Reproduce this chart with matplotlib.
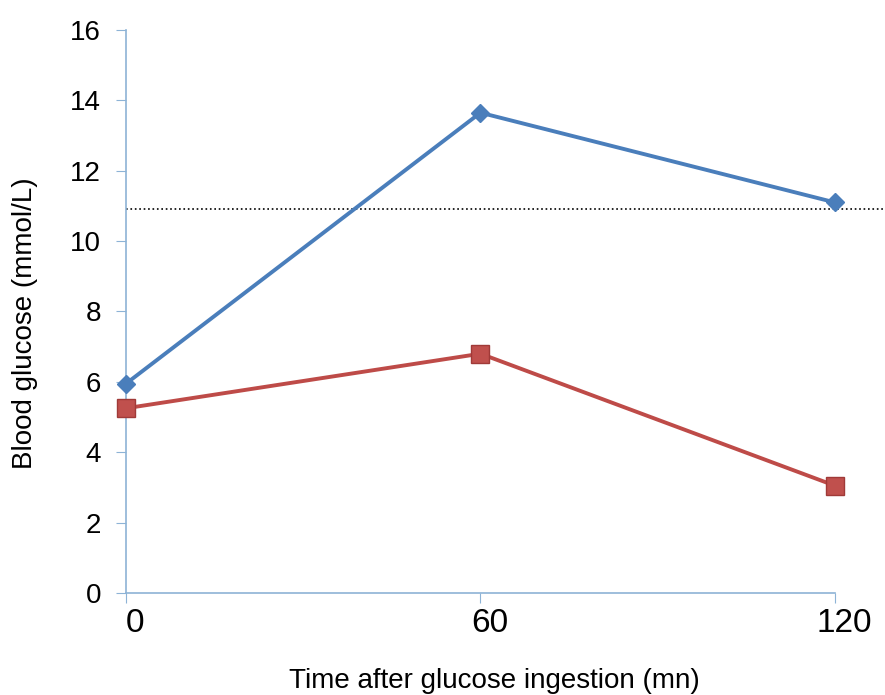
import matplotlib.pyplot as plt
import matplotlib.transforms as mtransforms

# data
time_mn = [0, 60, 120]
group_a = [5.95, 13.65, 11.1]   # blue diamonds
group_b = [5.25, 6.8, 3.05]     # red squares
threshold = 10.9
y_ticks = [0, 2, 4, 6, 8, 10, 12, 14, 16]

plt.rcParams['font.family'] = ['Liberation Sans', 'DejaVu Sans']

fig = plt.figure(figsize=(8.85, 6.95), dpi=100)
ax = fig.add_axes([0.1424, 0.1468, 0.801, 0.81])

ax.plot(time_mn, group_a, color='#4A7EBB', lw=2.8, marker='D', ms=9,
        mfc='#4A7EBB', mec='#4A7EBB', clip_on=False, zorder=3)
ax.plot(time_mn, group_b, color='#BE4B48', lw=2.8, marker='s', ms=13,
        mfc='#C0504D', mec='#A03A38', clip_on=False, zorder=3)
ax.plot([0, 128.6], [threshold, threshold], color='black', ls=':', lw=1.2,
        clip_on=False)

ax.set_xlim(0, 120)
ax.set_ylim(0, 16)
ax.set_xticks(time_mn)
ax.set_yticks(y_ticks)
ax.tick_params(axis='x', labelsize=24, colors='#8DB3D6', labelcolor='black',
               direction='out', length=7, pad=4)
ax.tick_params(axis='y', labelsize=20, colors='#8DB3D6', labelcolor='black',
               direction='out', length=7, pad=11)

# the x labels sit a little right of their ticks in the original
shift = mtransforms.ScaledTranslation(9 / 100, 0, fig.dpi_scale_trans)
for lbl in ax.get_xticklabels():
    lbl.set_transform(lbl.get_transform() + shift)

for side in ['top', 'right']:
    ax.spines[side].set_visible(False)
for side in ['left', 'bottom']:
    ax.spines[side].set_color('#8DB3D6')
    ax.spines[side].set_linewidth(1.2)

ax.set_xlabel('Time after glucose ingestion (mn)', fontsize=20)
ax.xaxis.set_label_coords(0.519, -0.133)
ax.set_ylabel('Blood glucose (mmol/L)', fontsize=20)
ax.yaxis.set_label_coords(-0.124, 0.48)

fig.savefig('out.png', dpi=100)
